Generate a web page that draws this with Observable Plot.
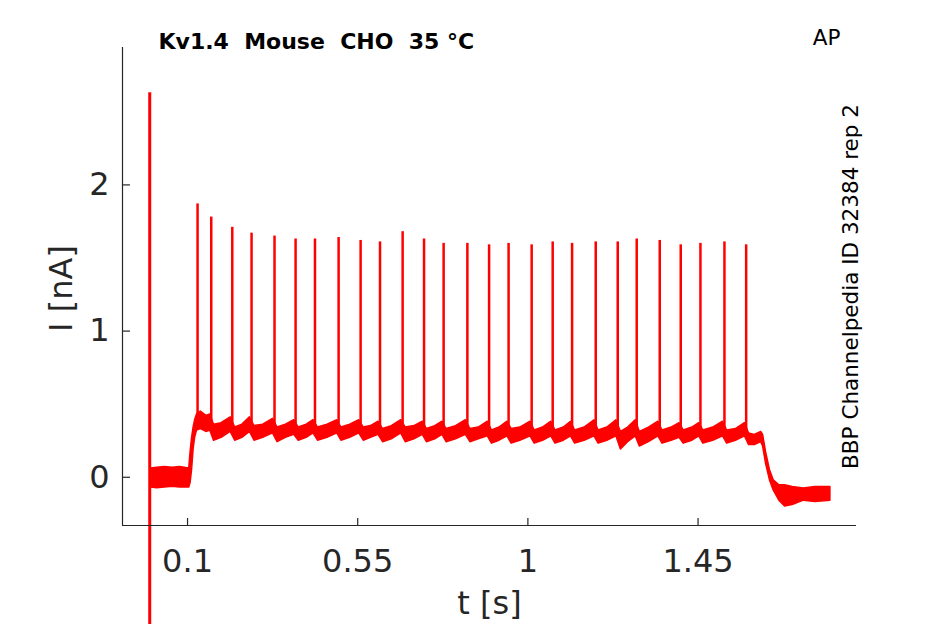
<!DOCTYPE html>
<html>
<head>
<meta charset="utf-8">
<script src="https://cdn.jsdelivr.net/npm/d3@7"></script>
<script src="https://cdn.jsdelivr.net/npm/@observablehq/plot@0.6"></script>
<style>
  html, body { margin: 0; padding: 0; background: #fff; }
  svg text { white-space: pre; }
</style>
</head>
<body>
<div id="chart"></div>
<script>
// ---- data ----
const titleText = "Kv1.4  Mouse  CHO  35 °C";
const cornerText = "AP";
const sideText = "BBP Channelpedia ID 32384 rep 2";
const xLabel = "t [s]";
const yLabel = "I [nA]";
const xTicks = [0.1, 0.55, 1, 1.45];
const yTicks = [0, 1, 2];
const xDomain = [-0.072, 1.869];
const yDomain = [-0.33, 2.94];

// capacitive transient at t = 0
const transientT = [0];
const transientTop = [2.63];
const transientBottom = [-1.6];

// action-potential-like spikes: time and peak current
const spikeT = [0.1265, 0.1627, 0.2183, 0.2693, 0.3300, 0.3857, 0.4370, 0.4995, 0.5577, 0.6090,
                0.6688, 0.7254, 0.7772, 0.8400, 0.8974, 0.9490, 1.0100, 1.0656, 1.1169, 1.1794,
                1.2376, 1.2878, 1.3487, 1.4042, 1.4563, 1.5198, 1.5772];
const spikePeak = [1.87, 1.78, 1.71, 1.67, 1.65, 1.63, 1.63, 1.64, 1.62, 1.61,
                   1.68, 1.63, 1.60, 1.60, 1.59, 1.60, 1.59, 1.61, 1.60, 1.61,
                   1.61, 1.63, 1.62, 1.59, 1.60, 1.61, 1.59];
const spikeBase = [0.36, 0.36, 0.35, 0.35, 0.34, 0.34, 0.34, 0.34, 0.34, 0.33,
                   0.34, 0.33, 0.33, 0.33, 0.32, 0.32, 0.32, 0.32, 0.32, 0.33,
                   0.33, 0.33, 0.32, 0.32, 0.32, 0.32, 0.32];

// noisy trace envelope: [t, low, high]
const band = [
  [0.003, -0.07, 0.06], [0.02, -0.075, 0.065], [0.04, -0.07, 0.07], [0.06, -0.065, 0.065],
  [0.08, -0.07, 0.07], [0.1045, -0.07, 0.06], [0.108, -0.04, 0.17], [0.112, 0.05, 0.27],
  [0.116, 0.19, 0.34], [0.120, 0.27, 0.39], [0.125, 0.32, 0.43], [0.135, 0.33, 0.45],
  [0.150, 0.31, 0.42], [0.160, 0.32, 0.43], [0.170, 0.25, 0.36], [0.190, 0.27, 0.37],
  [0.214, 0.31, 0.41], [0.226, 0.25, 0.34], [0.245, 0.27, 0.36], [0.265, 0.31, 0.41],
  [0.277, 0.25, 0.35], [0.300, 0.27, 0.36], [0.326, 0.30, 0.40], [0.338, 0.24, 0.34],
  [0.360, 0.27, 0.36], [0.382, 0.29, 0.39], [0.394, 0.25, 0.34], [0.415, 0.27, 0.36],
  [0.433, 0.30, 0.39], [0.445, 0.25, 0.34], [0.470, 0.27, 0.36], [0.496, 0.30, 0.39],
  [0.507, 0.25, 0.34], [0.530, 0.27, 0.36], [0.554, 0.30, 0.39], [0.566, 0.25, 0.34],
  [0.585, 0.27, 0.35], [0.605, 0.29, 0.38], [0.617, 0.24, 0.33], [0.640, 0.26, 0.35],
  [0.665, 0.30, 0.39], [0.677, 0.24, 0.34], [0.700, 0.26, 0.35], [0.722, 0.29, 0.38],
  [0.733, 0.24, 0.33], [0.755, 0.26, 0.35], [0.774, 0.29, 0.38], [0.785, 0.24, 0.33],
  [0.810, 0.26, 0.35], [0.836, 0.29, 0.39], [0.848, 0.24, 0.33], [0.870, 0.26, 0.34],
  [0.894, 0.28, 0.38], [0.905, 0.23, 0.32], [0.925, 0.25, 0.34], [0.946, 0.28, 0.38],
  [0.957, 0.23, 0.33], [0.980, 0.25, 0.34], [1.007, 0.28, 0.38], [1.018, 0.23, 0.32],
  [1.040, 0.25, 0.34], [1.062, 0.28, 0.38], [1.073, 0.23, 0.32], [1.095, 0.25, 0.34],
  [1.114, 0.28, 0.38], [1.125, 0.23, 0.32], [1.150, 0.25, 0.34], [1.176, 0.28, 0.39],
  [1.187, 0.23, 0.32], [1.210, 0.25, 0.34], [1.234, 0.28, 0.39], [1.246, 0.19, 0.31],
  [1.265, 0.24, 0.34], [1.285, 0.28, 0.39], [1.296, 0.21, 0.31], [1.320, 0.24, 0.34],
  [1.345, 0.28, 0.38], [1.356, 0.23, 0.32], [1.380, 0.25, 0.34], [1.401, 0.27, 0.37],
  [1.412, 0.23, 0.32], [1.435, 0.25, 0.34], [1.453, 0.28, 0.37], [1.464, 0.23, 0.32],
  [1.490, 0.25, 0.34], [1.516, 0.28, 0.38], [1.527, 0.23, 0.32], [1.550, 0.25, 0.33],
  [1.574, 0.28, 0.37], [1.585, 0.22, 0.30], [1.600, 0.22, 0.29], [1.617, 0.24, 0.31],
  [1.622, 0.21, 0.29], [1.630, 0.09, 0.17], [1.640, -0.02, 0.05], [1.650, -0.09, -0.02],
  [1.665, -0.16, -0.055], [1.680, -0.20, -0.055], [1.700, -0.19, -0.066], [1.730, -0.16, -0.077],
  [1.760, -0.17, -0.066], [1.800, -0.16, -0.066]
];

// ---- chart ----
const W = 945, H = 624;
const mL = 122, mR = 89, mT = 47, mB = 99;
const frameW = W - mL - mR, frameH = H - mT - mB;
const axisColor = "#262626";
const red = "#ff0000";

const spikes = spikeT.map((t, i) => ({t, base: spikeBase[i], peak: spikePeak[i]}));
const transient = transientT.map((t, i) => ({t, top: transientTop[i], bottom: transientBottom[i]}));

const chart = Plot.plot({
  width: W, height: H,
  marginLeft: mL, marginRight: mR, marginTop: mT, marginBottom: mB,
  x: {domain: xDomain},
  y: {domain: yDomain},
  style: {fontFamily: "'DejaVu Sans', sans-serif", background: "#fff", color: axisColor, overflow: "hidden"},
  marks: [
    // data
    Plot.areaY(band, {x: d => d[0], y1: d => d[1], y2: d => d[2], fill: red, stroke: red, strokeWidth: 1.5, curve: "linear"}),
    Plot.ruleX(spikes, {x: "t", y1: "base", y2: "peak", stroke: red, strokeWidth: 2.5}),
    Plot.ruleX(transient, {x: "t", y1: "bottom", y2: "top", stroke: red, strokeWidth: 3}),
    // axis lines
    Plot.ruleX([xDomain[0]], {stroke: axisColor, strokeWidth: 1.2}),
    Plot.ruleY([yDomain[0]], {stroke: axisColor, strokeWidth: 1.2}),
    // inward ticks
    Plot.tickX(xTicks, {x: d => d, insetTop: frameH - 7, stroke: axisColor, strokeWidth: 1.2}),
    Plot.tickY(yTicks, {y: d => d, insetRight: frameW - 8, stroke: axisColor, strokeWidth: 1.2}),
    // tick labels
    Plot.axisX(xTicks, {tickSize: 0, tickPadding: 24, fontSize: 32, label: null, fill: axisColor, tickFormat: d => String(d)}),
    Plot.axisY(yTicks, {tickSize: 0, tickPadding: 13, fontSize: 32, label: null, fill: axisColor, tickFormat: d => String(d)}),
    // axis titles
    Plot.text([xLabel], {frameAnchor: "bottom", textAnchor: "middle", lineAnchor: "middle", dy: 78, fontSize: 32, fill: axisColor}),
    Plot.text([yLabel], {frameAnchor: "left", textAnchor: "middle", lineAnchor: "middle", dx: -60.5, dy: 2, rotate: -90, fontSize: 32, fill: axisColor}),
    // annotations
    Plot.text([titleText], {frameAnchor: "top-left", textAnchor: "start", lineAnchor: "middle", dx: 36, dy: -6, fontSize: 22, fontWeight: "bold", fill: "#000"}),
    Plot.text([cornerText], {frameAnchor: "top-right", textAnchor: "end", lineAnchor: "middle", dx: -16, dy: -9, fontSize: 21.5, fill: "#000"}),
    Plot.text([sideText], {frameAnchor: "right", textAnchor: "middle", lineAnchor: "middle", dx: -5, rotate: -90, fontSize: 21.5, fill: "#000"})
  ]
});
document.getElementById("chart").appendChild(chart);
</script>
</body>
</html>
